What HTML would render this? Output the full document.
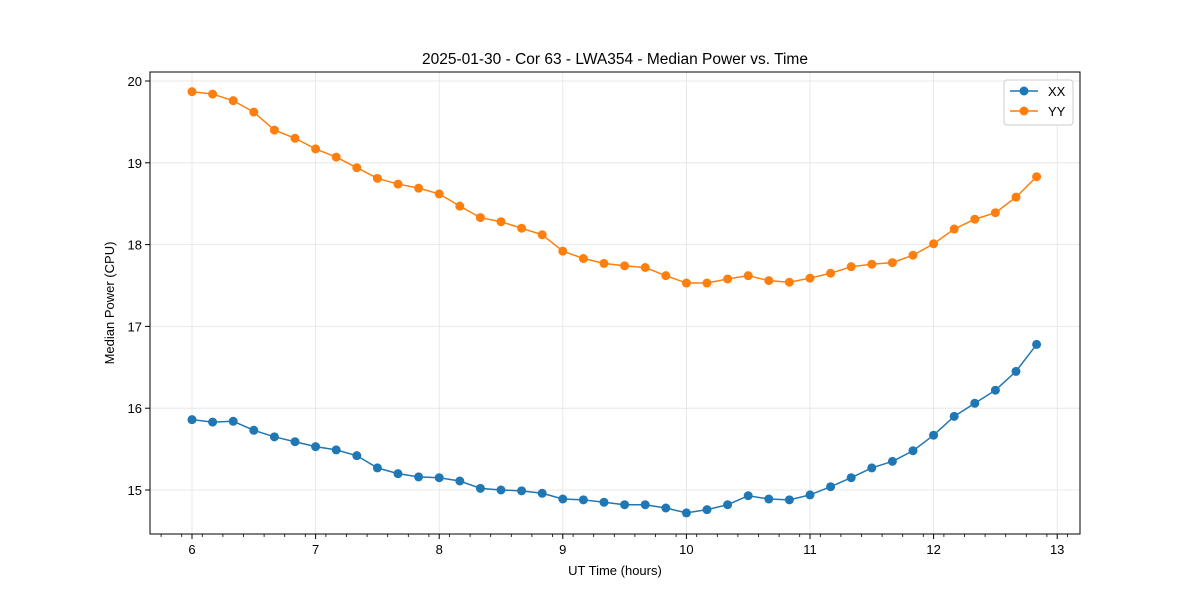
<!DOCTYPE html>
<html><head><meta charset="utf-8"><style>
body{margin:0;background:#fff;font-family:"Liberation Sans","DejaVu Sans",sans-serif}
</style></head><body>
<svg id="chart" width="1200" height="600" xmlns="http://www.w3.org/2000/svg" font-family="Liberation Sans, DejaVu Sans, sans-serif">
<rect width="1200" height="600" fill="#fff"/>
<text x="615" y="64" text-anchor="middle" font-size="15.5">2025-01-30 - Cor 63 - LWA354 - Median Power vs. Time</text>
<g id="grid"></g><g id="axes"></g><g id="series"></g>
<rect x="150" y="72" width="930" height="462" fill="none" stroke="#000" stroke-width="1"/>
<text x="615" y="575" text-anchor="middle" font-size="13">UT Time (hours)</text>
<text transform="translate(114,303) rotate(-90)" text-anchor="middle" font-size="13">Median Power (CPU)</text>
<g>
<rect x="1004" y="80" width="69" height="45" rx="3" fill="#fff" stroke="#ccc"/>
<line x1="1010" y1="91" x2="1038" y2="91" stroke="#1f77b4" stroke-width="1.5"/><circle cx="1024" cy="91" r="4.5" fill="#1f77b4"/>
<text x="1048" y="96" font-size="13">XX</text>
<line x1="1010" y1="111" x2="1038" y2="111" stroke="#ff7f0e" stroke-width="1.5"/><circle cx="1024" cy="111" r="4.5" fill="#ff7f0e"/>
<text x="1048" y="116" font-size="13">YY</text>
</g>
</svg>
<script>
const xTicks=[6,7,8,9,10,11,12,13];
const yTicks=[15,16,17,18,19,20];
const xxValues=[15.86,15.83,15.84,15.73,15.65,15.59,15.53,15.49,15.42,15.27,15.20,15.16,15.15,15.11,15.02,15.00,14.99,14.96,14.89,14.88,14.85,14.82,14.82,14.78,14.72,14.76,14.82,14.93,14.89,14.88,14.94,15.04,15.15,15.27,15.35,15.48,15.67,15.90,16.06,16.22,16.45,16.78];
const yyValues=[19.87,19.84,19.76,19.62,19.40,19.30,19.17,19.07,18.94,18.81,18.74,18.69,18.62,18.47,18.33,18.28,18.20,18.12,17.92,17.83,17.77,17.74,17.72,17.62,17.53,17.53,17.58,17.62,17.56,17.54,17.59,17.65,17.73,17.76,17.78,17.87,18.01,18.19,18.31,18.39,18.58,18.83];
const startHour=6, stepHour=1/6;
const NS="http://www.w3.org/2000/svg";
const X=v=>192+(v-6)*123.6;
const Y=v=>490-(v-15)*81.8;
function mk(t,a,p){const e=document.createElementNS(NS,t);for(const k in a)e.setAttribute(k,a[k]);p.appendChild(e);return e;}
const grid=document.getElementById('grid'),axes=document.getElementById('axes'),ser=document.getElementById('series');
xTicks.forEach(t=>{
 const g=mk('line',{x1:X(t),x2:X(t),y1:72,y2:534,stroke:'#e3e3e3','stroke-width':0.8},grid);
 
 
 mk('line',{x1:X(t),x2:X(t),y1:534,y2:539,stroke:'#000'},axes);
 const l=mk('text',{x:X(t),y:554,'text-anchor':'middle','font-size':13},axes);l.textContent=t;
 
 
});
for(let m=5.75;m<13.1;m+=1/6){const px=X(m);if(px>150&&px<1080)mk('line',{x1:px,x2:px,y1:534,y2:537,stroke:'#000','stroke-width':0.8},axes);}
yTicks.forEach(t=>{
 const g=mk('line',{x1:150,x2:1080,y1:Y(t),y2:Y(t),stroke:'#e3e3e3','stroke-width':0.8},grid);
 
 
 mk('line',{x1:145,x2:150,y1:Y(t),y2:Y(t),stroke:'#000'},axes);
 const l=mk('text',{x:142,y:Y(t)+5,'text-anchor':'end','font-size':13},axes);l.textContent=t;
 
 
});
function series(vals,color,name){
 const pts=vals.map((v,i)=>[X(startHour+i*stepHour),Y(v)]);
 const pl=mk('polyline',{points:pts.map(p=>p.join(',')).join(' '),fill:'none',stroke:color,'stroke-width':1.5},ser);
 
 
 pts.forEach(p=>{const c=mk('circle',{cx:p[0],cy:p[1],r:4.5,fill:color},ser);
 
 });
}
series(xxValues,'#1f77b4','xx');
series(yyValues,'#ff7f0e','yy');
</script>
</body></html>
